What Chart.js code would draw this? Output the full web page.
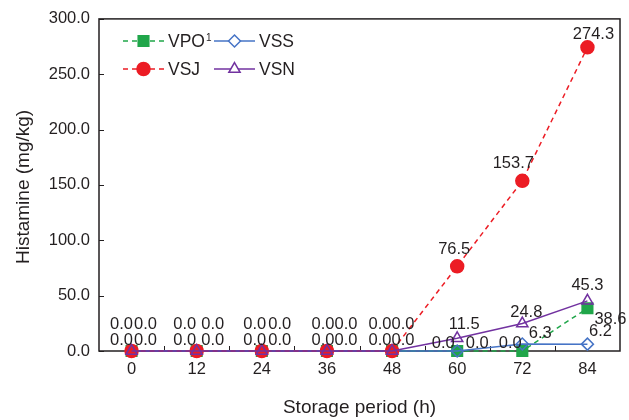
<!DOCTYPE html>
<html>
<head>
<meta charset="utf-8">
<script src="https://cdn.jsdelivr.net/npm/chart.js@4/dist/chart.umd.min.js"></script>
<style>
  html, body { margin: 0; padding: 0; background: #fff; }
  #wrap { width: 629px; height: 420px; }
</style>
</head>
<body>
<div id="wrap"><canvas id="chart" width="629" height="420"></canvas></div>
<script>
// Data
//-----------------------------------------------------------------------------

var hours = ['0', '12', '24', '36', '48', '60', '72', '84'];
var vpo = [0, 0, 0, 0, 0, 0, 0, 38.6];
var vss = [0, 0, 0, 0, 0, 0, 6.3, 6.2];
var vsj = [0, 0, 0, 0, 0, 76.5, 153.7, 274.3];
var vsn = [0, 0, 0, 0, 0, 11.5, 24.8, 45.3];
var yTicks = [0, 50, 100, 150, 200, 250, 300];

// value label nudges [dx, dy] in px from each point
var labelNudge = {
  VPO: [[-10, -27], [-12, -27], [-7, -27], [-4, -27], [-12, -27], [-14, -8], [-12, -8], [23, 11]],
  VSJ: [[14, -27], [16, -27], [18, -27], [19, -27], [11, -27], [-3, -17], [-9, -17], [6, -13]],
  VSS: [[-10, -11], [-12, -11], [-7, -11], [-4, -11], [-12, -11], [20, -8], [18, -11], [13, -13]],
  VSN: [[14, -11], [16, -11], [18, -11], [19, -11], [11, -11], [7, -14], [4, -11], [0, -15]]
};

var INK = '#231f20';
var FONT = '"Liberation Sans", Arial, Helvetica, sans-serif';

var GREEN = '#20a64a',
    RED = '#ec1c24',
    BLUE = '#4674c6',
    PURPLE = '#7232a0';

// Plugins
//-----------------------------------------------------------------------------

// frame, inward ticks, axis titles (under the lines and markers)
var framePlugin = {
  id: 'frame',
  beforeDatasetsDraw: function(chart) {
    var ctx = chart.ctx,
        a = chart.chartArea,
        x = chart.scales.x,
        y = chart.scales.y;

    ctx.save();
    ctx.strokeStyle = INK;
    ctx.lineWidth = 1.5;
    ctx.strokeRect(a.left, a.top, a.right - a.left, a.bottom - a.top);

    ctx.lineWidth = 1;
    ctx.beginPath();
    yTicks.forEach(function(v) {
      var py = Math.round(y.getPixelForValue(v)) + 0.5;
      ctx.moveTo(a.left, py);
      ctx.lineTo(a.left + 5, py);
    });
    for (var i = 1; i < hours.length; i++) {
      var px = Math.round((x.getPixelForValue(i - 1) + x.getPixelForValue(i)) / 2) + 0.5;
      ctx.moveTo(px, a.bottom);
      ctx.lineTo(px, a.bottom - 5);
    }
    ctx.stroke();

    ctx.fillStyle = INK;
    ctx.font = '19px ' + FONT;
    ctx.textAlign = 'center';
    ctx.textBaseline = 'middle';
    ctx.fillText('Storage period (h)', (a.left + a.right) / 2, 408);

    ctx.translate(24, (a.top + a.bottom) / 2 + 2);
    ctx.rotate(-Math.PI / 2);
    ctx.fillText('Histamine (mg/kg)', 0, 0);
    ctx.restore();
  }
};

// value labels next to each point
var labelPlugin = {
  id: 'valueLabels',
  afterDatasetsDraw: function(chart) {
    var ctx = chart.ctx;
    ctx.save();
    ctx.fillStyle = INK;
    ctx.font = '16.5px ' + FONT;
    ctx.textAlign = 'center';
    ctx.textBaseline = 'middle';
    chart.data.datasets.forEach(function(ds, di) {
      var meta = chart.getDatasetMeta(di),
          nudge = labelNudge[ds.label];
      meta.data.forEach(function(pt, i) {
        ctx.fillText(ds.data[i].toFixed(1), pt.x + nudge[i][0], pt.y + nudge[i][1]);
      });
    });
    ctx.restore();
  }
};

// two-column legend inside the plot
var legendPlugin = {
  id: 'cornerLegend',
  afterDraw: function(chart) {
    var ctx = chart.ctx;
    var entries = [
      { name: 'VPO', sup: '1', ds: 'VPO', x: 123, y: 41 },
      { name: 'VSS', ds: 'VSS', x: 214, y: 41 },
      { name: 'VSJ', ds: 'VSJ', x: 123, y: 69 },
      { name: 'VSN', ds: 'VSN', x: 214, y: 69 }
    ];
    ctx.save();
    entries.forEach(function(e) {
      var ds = chart.data.datasets.find(function(d) { return d.label === e.ds; });
      ctx.strokeStyle = ds.borderColor;
      ctx.lineWidth = ds.borderWidth;
      ctx.setLineDash(ds.borderDash || []);
      ctx.beginPath();
      ctx.moveTo(e.x, e.y);
      ctx.lineTo(e.x + 41, e.y);
      ctx.stroke();
      ctx.setLineDash([]);

      ctx.fillStyle = ds.pointBackgroundColor === 'rgba(0,0,0,0)' ? '#ffffff' : ds.pointBackgroundColor;
      ctx.strokeStyle = ds.pointBorderColor;
      ctx.lineWidth = ds.pointBorderWidth;
      Chart.helpers.drawPoint(ctx, {
        pointStyle: ds.pointStyle,
        radius: ds.pointRadius,
        borderWidth: ds.pointBorderWidth
      }, e.x + 20.5, e.y);

      ctx.fillStyle = INK;
      ctx.font = '17.5px ' + FONT;
      ctx.textAlign = 'left';
      ctx.textBaseline = 'middle';
      ctx.fillText(e.name, e.x + 45, e.y + 1);
      if (e.sup) {
        var w = ctx.measureText(e.name).width;
        ctx.font = '10px ' + FONT;
        ctx.fillText(e.sup, e.x + 46 + w, e.y - 3);
      }
    });
    ctx.restore();
  }
};

// Chart
//-----------------------------------------------------------------------------

function series(label, data, color, style, radius, filled, dashed) {
  return {
    label: label,
    data: data,
    borderColor: color,
    borderWidth: 1.5,
    borderDash: dashed ? [5, 4] : [],
    pointStyle: style,
    pointRadius: radius,
    pointHoverRadius: radius,
    pointBorderWidth: 1.5,
    pointBorderColor: color,
    pointBackgroundColor: filled ? color : 'rgba(0,0,0,0)',
    fill: false,
    clip: false,
    tension: 0
  };
}

Chart.defaults.font.family = FONT;
Chart.defaults.color = INK;

// first dataset ends up drawn on top
var datasets = [
  series('VSN', vsn, PURPLE, 'triangle', 6.5, false, false),
  series('VSJ', vsj, RED, 'circle', 6.5, true, true),
  series('VSS', vss, BLUE, 'rectRot', 6, false, false),
  series('VPO', vpo, GREEN, 'rect', 7.5, true, true)
];

new Chart(document.getElementById('chart'), {
  type: 'line',
  data: { labels: hours, datasets: datasets },
  options: {
    responsive: false,
    animation: false,
    layout: { padding: { top: 14, right: 8, left: 0, bottom: 0 } },
    plugins: {
      legend: { display: false },
      tooltip: { enabled: false }
    },
    scales: {
      x: {
        type: 'category',
        offset: true,
        grid: { display: false, drawTicks: false },
        border: { display: false },
        ticks: { font: { size: 16.5 }, color: INK, padding: 9, maxRotation: 0 },
        afterFit: function(scale) { scale.height = 69; }
      },
      y: {
        min: 0,
        max: 300,
        grid: { display: false, drawTicks: false },
        border: { display: false },
        afterBuildTicks: function(scale) {
          scale.ticks = yTicks.map(function(v) { return { value: v }; });
        },
        ticks: {
          font: { size: 16.5 },
          color: INK,
          padding: 9,
          callback: function(v) { return Number(v).toFixed(1); }
        },
        afterFit: function(scale) { scale.width = 99; }
      }
    }
  },
  plugins: [framePlugin, labelPlugin, legendPlugin]
});
</script>
</body>
</html>
